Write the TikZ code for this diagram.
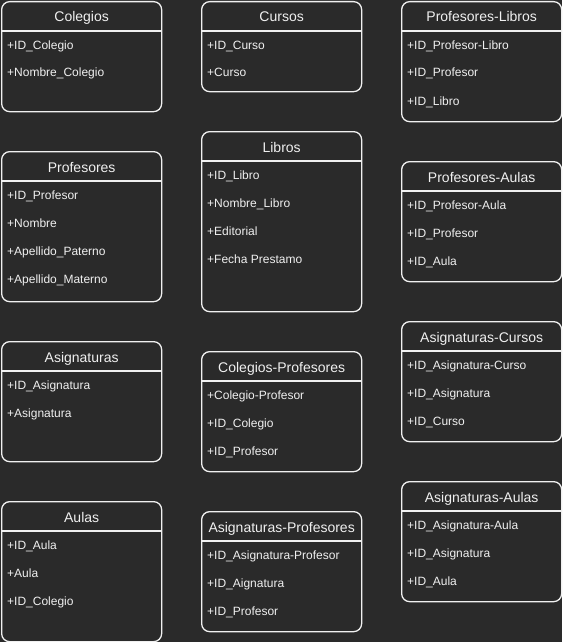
\documentclass[tikz,border=0pt]{standalone}
\usepackage{fontspec}
\setmainfont{Liberation Sans}
\definecolor{bg}{RGB}{42,42,42}
\definecolor{fg}{RGB}{240,240,240}
\tikzset{
 tbl/.style={draw=fg, line width=1.3pt, rounded corners=8pt, minimum width=160pt, inner sep=0pt, anchor=north west},
 sep/.style={draw=fg, line width=1.3pt},
 hdr/.style={text=fg, font=\fontsize{14}{16}\selectfont, inner sep=0pt, anchor=base},
 fld/.style={text=fg, font=\fontsize{12}{14}\selectfont, inner sep=0pt, anchor=base west},
}
\newcommand{\tablebox}[6]{%
 \node[tbl, minimum height=#4pt] (#1) at (#2pt,-#3pt) {};
 \draw[sep] ([yshift=-30pt]#1.north west) -- ([yshift=-30pt]#1.north east);
 \node[hdr] (#1-t) at ([yshift=-21pt]#1.north) {#5};
 \foreach \r [count=\i] in {#6} {\node[fld] (#1-\i) at ([xshift=6pt,yshift=-20pt-28pt*\i]#1.north west) {\r};}
}
\begin{document}
\begin{tikzpicture}
\fill[bg] (0,0) rectangle (562pt,-642pt);
\useasboundingbox (0,0) rectangle (562pt,-642pt);
\tablebox{colegios}{1}{1}{110}{Colegios}{+ID\_Colegio,+Nombre\_Colegio}
\tablebox{cursos}{201}{1}{90}{Cursos}{+ID\_Curso,+Curso}
\tablebox{proflib}{401}{1}{120}{Profesores-Libros}{+ID\_Profesor-Libro,+ID\_Profesor,+ID\_Libro}
\tablebox{profesores}{1}{151}{150}{Profesores}{+ID\_Profesor,+Nombre,+Apellido\_Paterno,+Apellido\_Materno}
\tablebox{libros}{201}{131}{180}{Libros}{+ID\_Libro,+Nombre\_Libro,+Editorial,+Fecha Prestamo}
\tablebox{profaulas}{401}{161}{120}{Profesores-Aulas}{+ID\_Profesor-Aula,+ID\_Profesor,+ID\_Aula}
\tablebox{asignaturas}{1}{341}{120}{Asignaturas}{+ID\_Asignatura,+Asignatura}
\tablebox{colprof}{201}{351}{120}{Colegios-Profesores}{+Colegio-Profesor,+ID\_Colegio,+ID\_Profesor}
\tablebox{asigcursos}{401}{321}{120}{Asignaturas-Cursos}{+ID\_Asignatura-Curso,+ID\_Asignatura,+ID\_Curso}
\tablebox{aulas}{1}{501}{140}{Aulas}{+ID\_Aula,+Aula,+ID\_Colegio}
\tablebox{asigprof}{201}{511}{120}{Asignaturas-Profesores}{+ID\_Asignatura-Profesor,+ID\_Aignatura,+ID\_Profesor}
\tablebox{asigaulas}{401}{481}{120}{Asignaturas-Aulas}{+ID\_Asignatura-Aula,+ID\_Asignatura,+ID\_Aula}
\end{tikzpicture}
\end{document}
